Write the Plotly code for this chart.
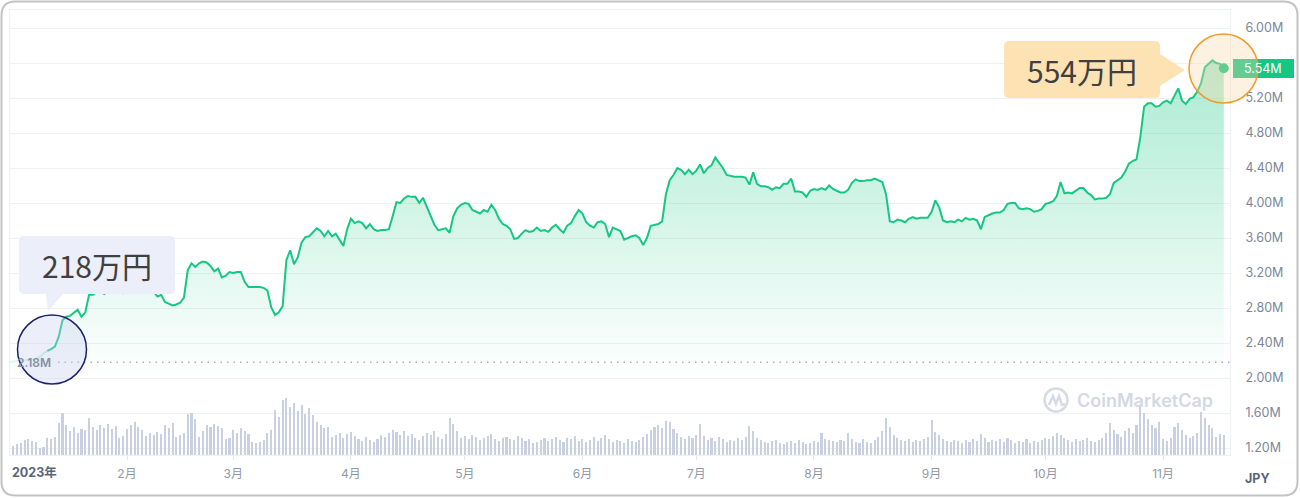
import plotly.graph_objects as go
import pandas as pd

# ---------------- data ----------------
dates = pd.date_range("2023-01-01", periods=321, freq="D")

price_m = [
    2.18, 2.19, 2.19, 2.20, 2.20, 2.21, 2.21, 2.22, 2.24, 2.28,
    2.31, 2.33, 2.36, 2.47, 2.66, 2.70, 2.71, 2.74, 2.78, 2.70,
    2.75, 2.95, 2.95, 2.98, 2.99, 2.96, 3.00, 2.98, 3.00, 3.02,
    2.97, 3.00, 3.05, 3.06, 3.00, 2.98, 3.00, 3.02, 2.99, 2.93,
    2.95, 2.87, 2.85, 2.83, 2.84, 2.86, 2.92, 3.23, 3.31, 3.27,
    3.31, 3.33, 3.32, 3.28, 3.22, 3.25, 3.15, 3.17, 3.21, 3.20,
    3.21, 3.21, 3.10, 3.04, 3.04, 3.04, 3.04, 3.03, 3.00, 2.81,
    2.72, 2.75, 2.82, 3.35, 3.46, 3.30, 3.38, 3.55, 3.61, 3.62,
    3.66, 3.71, 3.68, 3.62, 3.68, 3.62, 3.65, 3.58, 3.51, 3.70,
    3.82, 3.77, 3.79, 3.77, 3.71, 3.76, 3.70, 3.68, 3.69, 3.69,
    3.70, 3.85, 4.01, 4.00, 4.05, 4.08, 4.07, 4.07, 4.00, 4.06,
    3.95, 3.85, 3.75, 3.69, 3.70, 3.71, 3.66, 3.85, 3.94, 3.98,
    4.00, 3.99, 3.92, 3.90, 3.88, 3.92, 3.90, 3.98, 3.92, 3.82,
    3.76, 3.74, 3.70, 3.59, 3.60, 3.65, 3.69, 3.67, 3.68, 3.72,
    3.68, 3.69, 3.67, 3.72, 3.75, 3.70, 3.66, 3.74, 3.77, 3.85,
    3.92, 3.88, 3.78, 3.74, 3.72, 3.78, 3.79, 3.76, 3.61, 3.72,
    3.70, 3.68, 3.58, 3.60, 3.62, 3.63, 3.60, 3.52, 3.60, 3.74,
    3.75, 3.76, 3.79, 4.10, 4.26, 4.32, 4.40, 4.38, 4.33, 4.38,
    4.33, 4.37, 4.44, 4.34, 4.40, 4.43, 4.52, 4.46, 4.40, 4.32,
    4.31, 4.30, 4.30, 4.30, 4.29, 4.21, 4.35, 4.22, 4.19, 4.19,
    4.18, 4.15, 4.18, 4.17, 4.22, 4.22, 4.28, 4.13, 4.13, 4.12,
    4.07, 4.14, 4.16, 4.15, 4.17, 4.15, 4.20, 4.16, 4.14, 4.12,
    4.12, 4.15, 4.23, 4.27, 4.25, 4.25, 4.26, 4.26, 4.28, 4.26,
    4.24, 4.10, 3.79, 3.78, 3.81, 3.80, 3.78, 3.82, 3.84, 3.82,
    3.83, 3.83, 3.83, 3.90, 4.03, 3.95, 3.80, 3.78, 3.79, 3.78,
    3.81, 3.79, 3.83, 3.81, 3.82, 3.80, 3.70, 3.84, 3.86, 3.88,
    3.89, 3.89, 3.92, 3.99, 4.00, 4.00, 3.94, 3.93, 3.94, 3.93,
    3.90, 3.91, 3.93, 3.99, 4.00, 4.02, 4.08, 4.24, 4.11, 4.12,
    4.11, 4.14, 4.17, 4.17, 4.12, 4.09, 4.04, 4.05, 4.05, 4.06,
    4.10, 4.23, 4.26, 4.29, 4.36, 4.45, 4.48, 4.50, 4.75, 5.10,
    5.14, 5.14, 5.10, 5.11, 5.15, 5.17, 5.14, 5.23, 5.31, 5.17,
    5.13, 5.19, 5.21, 5.27, 5.37, 5.55, 5.59, 5.63, 5.60, 5.59,
    5.54,
]

volume_rel = [
    10, 9, 11, 12, 15, 16, 14, 13, 7, 8,
    17, 16, 18, 32, 42, 30, 24, 28, 22, 26,
    25, 37, 28, 25, 30, 27, 31, 26, 29, 17,
    19, 26, 30, 33, 28, 25, 19, 22, 20, 23,
    21, 30, 27, 32, 18, 20, 22, 41, 42, 36,
    18, 24, 30, 28, 31, 29, 27, 16, 17, 25,
    22, 27, 24, 21, 13, 12, 13, 15, 22, 25,
    45, 38, 55, 57, 48, 52, 44, 50, 41, 47,
    40, 33, 30, 27, 28, 18, 20, 22, 17, 21,
    23, 19, 16, 14, 18, 15, 13, 16, 20, 18,
    22, 25, 23, 20, 24, 19, 21, 17, 15, 19,
    22, 20, 24, 18, 16, 21, 37, 31, 24, 17,
    19, 16, 20, 18, 15, 17, 19, 21, 16, 14,
    17, 18, 16, 15, 19, 17, 14, 16, 12, 13,
    15, 17, 14, 16, 18, 15, 13, 17, 16, 19,
    14, 16, 13, 15, 18, 14, 17, 20, 16, 13,
    15, 14, 12, 16, 14, 13, 15, 18, 21, 25,
    28, 30, 27, 34, 33, 26, 22, 18, 16, 19,
    17, 20, 31, 19, 15, 17, 14, 18, 16, 13,
    15, 14, 17, 15, 18, 29, 24, 17, 15, 13,
    12, 14, 15, 12, 11, 13, 14, 12, 15, 13,
    11, 12, 14, 13, 22, 16, 15, 14, 13, 15,
    14, 22, 16, 13, 12, 16, 13, 12, 15, 18,
    24, 37, 28, 20, 17, 15, 14, 16, 13, 15,
    14, 16, 18, 35, 23, 20, 16, 14, 13, 15,
    14, 12, 15, 13, 16, 14, 21, 17, 13, 15,
    14, 16, 13, 17, 15, 12, 14, 13, 16, 12,
    14, 13, 15, 17, 16, 19, 22, 20, 17, 15,
    13, 16, 14, 15, 17, 14, 13, 15, 17, 22,
    32, 25, 21, 18, 24, 27, 22, 30, 50, 42,
    36, 30, 27, 33, 16, 14, 17, 28, 32, 25,
    20, 17, 19, 22, 43, 37, 30, 27, 18, 21,
    20,
]

y_tick_vals = [1.20, 1.60, 2.00, 2.40, 2.80, 3.20, 3.60, 4.00, 4.40, 4.80, 5.20, 5.60, 6.00]
# the 5.60M label sits under the current-price badge in the reference, so it is left blank
y_tick_text = ["" if abs(v - 5.60) < 1e-9 else f"{v:.2f}M" for v in y_tick_vals]
month_ticks = ["2023-02-01", "2023-03-01", "2023-04-01", "2023-05-01", "2023-06-01",
               "2023-07-01", "2023-08-01", "2023-09-01", "2023-10-01", "2023-11-01"]
month_labels = ["2月", "3月", "4月", "5月", "6月", "7月", "8月", "9月", "10月", "11月"]
start_label = "218万円"
end_label = "554万円"

assert len(price_m) == len(dates) == len(volume_rel)

# ---------------- geometry helpers ----------------
W, H = 1300, 498
L, R, T, B = 10, 70, 10, 43
PW, PH = W - L - R, H - T - B


def px(x):
    return (x - L) / PW


def py(y):
    return (H - B - y) / PH


def P(x, y):
    return f"{px(x):.5f},{py(y):.5f}"


def rounded_box(x0, y0, x1, y1, r, tail_bottom=None, tail_right=None):
    s = f"M{P(x0 + r, y0)} L{P(x1 - r, y0)} Q{P(x1, y0)} {P(x1, y0 + r)} "
    if tail_right:
        ya, (tx, ty), yb = tail_right
        s += f"L{P(x1, ya)} L{P(tx, ty)} L{P(x1, yb)} "
    s += f"L{P(x1, y1 - r)} Q{P(x1, y1)} {P(x1 - r, y1)} "
    if tail_bottom:
        xa, (tx, ty), xb = tail_bottom
        s += f"L{P(xa, y1)} L{P(tx, ty)} L{P(xb, y1)} "
    s += f"L{P(x0 + r, y1)} Q{P(x0, y1)} {P(x0, y1 - r)} L{P(x0, y0 + r)} Q{P(x0, y0)} {P(x0 + r, y0)} Z"
    return s


def circle(cx, cy, r, **kw):
    return dict(type="circle", xref="paper", yref="paper",
                x0=px(cx - r), x1=px(cx + r), y0=py(cy + r), y1=py(cy - r), layer="above", **kw)


GREEN = "#16c784"
FONT = "Inter, Noto Sans CJK JP, sans-serif"
JP = "Noto Sans CJK JP, sans-serif"

fig = go.Figure()

fig.add_trace(go.Bar(x=dates, y=volume_rel, yaxis="y2", marker_color="#c9d1e1",
                     marker_line_width=0, width=0.55 * 86400000, hoverinfo="skip"))

fig.add_trace(go.Scatter(
    x=dates, y=price_m, mode="lines", line=dict(width=0, color=GREEN), fill="tozeroy",
    fillgradient=dict(type="vertical",
                      colorscale=[[0, "rgba(22,199,132,0)"], [1, "rgba(22,199,132,0.36)"]],
                      start=2.0, stop=5.65),
    hoverinfo="skip"))

fig.add_trace(go.Scatter(x=dates[:6], y=price_m[:6], mode="lines",
                         line=dict(color="rgba(22,199,132,0.12)", width=2), hoverinfo="skip"))
fig.add_trace(go.Scatter(x=dates[5:11], y=price_m[5:11], mode="lines",
                         line=dict(color="rgba(22,199,132,0.25)", width=2), hoverinfo="skip"))
fig.add_trace(go.Scatter(x=dates[10:], y=price_m[10:], mode="lines",
                         line=dict(color=GREEN, width=2), hoverinfo="skip"))
fig.add_trace(go.Scatter(x=[dates[-1]], y=[price_m[-1]], mode="markers",
                         marker=dict(color=GREEN, size=10), hoverinfo="skip"))

x_start = dates[0] + pd.Timedelta(hours=4)
x_end = dates[0] + pd.Timedelta(days=(1230 - 9.4) / 3.795)

shapes = [
    # outer card border
    dict(type="path", xref="paper", yref="paper", layer="above",
         path=rounded_box(1.5, 1.5, 1297.5, 495.5, 14),
         line=dict(color="#c3c3c3", width=2), fillcolor="rgba(0,0,0,0)"),
    # start price dotted line
    dict(type="line", xref="paper", yref="y", x0=px(58), x1=1, y0=price_m[0], y1=price_m[0],
         line=dict(color="#a9b1c0", width=1.5, dash="1.5px,5px"), layer="above"),
    # callouts
    dict(type="path", xref="paper", yref="paper", layer="above",
         path=rounded_box(19, 236, 175, 294, 5, tail_bottom=(63, (48, 311), 46)),
         fillcolor="#eceef9", line=dict(width=0)),
    dict(type="path", xref="paper", yref="paper", layer="above",
         path=rounded_box(1004, 41, 1160, 98, 5, tail_right=(54, (1185, 70), 86)),
         fillcolor="#fde3b4", line=dict(width=0)),
    circle(52, 349.5, 34.5, line=dict(color="#1c226b", width=1.5), fillcolor="rgba(200,206,240,0.35)"),
    # price badge
    dict(type="rect", xref="paper", yref="paper", layer="above",
         x0=px(1233), x1=px(1294), y0=py(78), y1=py(59), fillcolor=GREEN, line=dict(width=0)),
    circle(1223.5, 68.5, 34.5, line=dict(color="#ee9b2f", width=1.5), fillcolor="rgba(250,215,170,0.35)"),
    # watermark logo
    circle(1056, 400, 11.5, line=dict(color="#d6dce6", width=2.5), fillcolor="rgba(0,0,0,0)"),
    dict(type="path", xref="paper", yref="paper", layer="above",
         path=f"M{P(1049, 405)} L{P(1053, 396)} L{P(1056, 404)} L{P(1059, 396)} L{P(1062, 405)} L{P(1065, 404)}",
         line=dict(color="#d6dce6", width=2.5)),
]

annotations = [
    dict(text=start_label, xref="paper", yref="paper", x=px(97), y=py(265), showarrow=False,
         font=dict(family=JP, size=30, color="#404040"), xanchor="center", yanchor="middle"),
    dict(text=end_label, xref="paper", yref="paper", x=px(1082), y=py(70), showarrow=False,
         font=dict(family=JP, size=30, color="#404040"), xanchor="center", yanchor="middle"),
    dict(text=f"{price_m[-1]:.2f}M", xref="paper", yref="y", x=px(1242), y=price_m[-1], showarrow=False,
         font=dict(family=FONT, size=12.5, color="white"), xanchor="left", yanchor="middle"),
    dict(text=f"{price_m[0]:.2f}M", xref="paper", yref="y", x=px(15), y=price_m[0], showarrow=False,
         font=dict(family=FONT, size=12, color="#858fa2", weight=600), xanchor="left", yanchor="middle"),
    dict(text="2023年", xref="paper", yref="paper", x=px(10), y=py(472), showarrow=False,
         font=dict(family=FONT, size=12.5, color="#58667e", weight=700), xanchor="left", yanchor="middle"),
    dict(text="JPY", xref="paper", yref="paper", x=px(1243), y=py(478), showarrow=False,
         font=dict(family=FONT, size=12.5, color="#58667e", weight=700), xanchor="left", yanchor="middle"),
    dict(text="CoinMarketCap", xref="paper", yref="paper", x=px(1075), y=py(400), showarrow=False,
         font=dict(family=FONT, size=18, color="#d3d9e3", weight=600), xanchor="left", yanchor="middle"),
]

fig.update_layout(
    width=W, height=H, margin=dict(l=L, r=R, t=T, b=B),
    paper_bgcolor="white", plot_bgcolor="white", showlegend=False,
    font=dict(family=FONT, color="#7d879a"),
    bargap=0,
    xaxis=dict(type="date", range=[x_start, x_end], tickvals=month_ticks, ticktext=month_labels,
               tickfont=dict(size=12, color="#8f98aa"), showgrid=False, zeroline=False,
               showline=True, mirror=True, linecolor="#eef1f5", linewidth=1,
               ticks="outside", ticklen=4, tickcolor="#e3e7ee", ticklabelstandoff=4),
    yaxis=dict(range=[1.12, 6.2057], side="right", tickvals=y_tick_vals, ticktext=y_tick_text,
               tickfont=dict(size=12.5, color="#7d879a"), showgrid=True, gridcolor="#eff2f5",
               zeroline=False, showline=True, mirror=True, linecolor="#eef1f5", ticks="",
               ticklabelstandoff=12),
    yaxis2=dict(overlaying="y", range=[0, PH], visible=False, fixedrange=True),
    shapes=shapes, annotations=annotations,
)

fig.write_html("out.html", config={"displayModeBar": False},
               post_script="document.body.style.margin='0';document.body.style.padding='0';")
